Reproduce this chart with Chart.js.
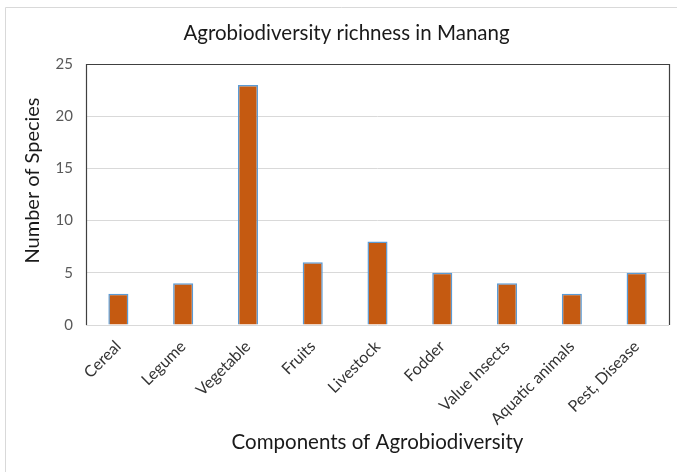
<!DOCTYPE html>
<html>
<head>
<meta charset="utf-8">
<script src="https://cdn.jsdelivr.net/npm/chart.js@4/dist/chart.umd.min.js"></script>
<style>
  html, body { margin: 0; padding: 0; background: #ffffff; }
  #wrap { width: 677px; height: 472px; position: relative; }
</style>
</head>
<body>
<div id="wrap"><canvas id="c" width="677" height="472"></canvas></div>
<script>
// Agrobiodiversity components and species counts recorded in Manang
const categories = ['Cereal', 'Legume', 'Vegetable', 'Fruits', 'Livestock', 'Fodder', 'Value Insects', 'Aquatic animals', 'Pest, Disease'];
const speciesCounts = [3, 4, 23, 6, 8, 5, 4, 3, 5];
const yTickValues = [0, 5, 10, 15, 20, 25];

const chartTitle = 'Agrobiodiversity richness in Manang';
const yAxisTitle = 'Number of Species';
const xAxisTitle = 'Components of Agrobiodiversity';

const FONT = 'Lato, "Open Sans", "Liberation Sans", sans-serif';

// Light outer frame, dark plot box, chart title and rotated y-axis title
const framePlugin = {
  id: 'frame',
  beforeDraw(chart) {
    const ctx = chart.ctx;
    ctx.save();
    ctx.strokeStyle = '#d9d9d9';
    ctx.lineWidth = 1;
    ctx.beginPath();
    ctx.moveTo(5.5, chart.height);
    ctx.lineTo(5.5, 7.5);
    ctx.lineTo(chart.width, 7.5);
    ctx.stroke();
    ctx.restore();
  },
  afterDraw(chart) {
    const { ctx, chartArea: a } = chart;
    ctx.save();
    ctx.strokeStyle = '#404040';
    ctx.lineWidth = 1.2;
    ctx.beginPath();
    ctx.moveTo(Math.round(a.left) + 0.5, Math.round(a.bottom));
    ctx.lineTo(Math.round(a.left) + 0.5, Math.round(a.top) + 0.5);
    ctx.lineTo(Math.round(a.right) + 0.5, Math.round(a.top) + 0.5);
    ctx.lineTo(Math.round(a.right) + 0.5, Math.round(a.bottom));
    ctx.stroke();

    ctx.fillStyle = '#1a1a1a';
    ctx.textAlign = 'center';
    ctx.textBaseline = 'middle';
    ctx.font = '20.5px ' + FONT;
    ctx.fillText(chartTitle, chart.width / 2 + 8, 33);

    ctx.font = '20px ' + FONT;
    ctx.translate(33, (a.top + a.bottom) / 2 - 14);
    ctx.rotate(-Math.PI / 2);
    ctx.fillText(yAxisTitle, 0, 0);
    ctx.restore();
  }
};

new Chart(document.getElementById('c'), {
  type: 'bar',
  data: {
    labels: categories,
    datasets: [{
      data: speciesCounts,
      backgroundColor: '#c55a11',
      borderColor: '#5b9bd5',
      borderWidth: 1.5,
      barPercentage: 0.31,
      categoryPercentage: 1.0
    }]
  },
  options: {
    responsive: false,
    animation: false,
    layout: { padding: { top: 64, right: 8, left: 0, bottom: 0 } },
    plugins: {
      legend: { display: false },
      title: { display: false },
      tooltip: { enabled: false }
    },
    scales: {
      x: {
        grid: { display: false, drawTicks: false },
        border: { display: false },
        ticks: {
          color: '#333333',
          font: { family: FONT, size: 16 },
          minRotation: 45,
          maxRotation: 45,
          padding: 12,
          autoSkip: false
        },
        title: {
          display: true,
          text: xAxisTitle,
          color: '#1a1a1a',
          font: { family: FONT, size: 20.5 },
          padding: { top: 0, bottom: 17 }
        },
        afterFit(scale) { scale.height = 147; }
      },
      y: {
        min: 0,
        max: 25,
        afterBuildTicks(scale) { scale.ticks = yTickValues.map(v => ({ value: v })); },
        grid: { color: '#d9d9d9', lineWidth: 1, drawTicks: false },
        border: { display: false },
        ticks: {
          color: '#595959',
          font: { family: FONT, size: 15 },
          padding: 13
        },
        afterFit(scale) { scale.width = 86; }
      }
    }
  },
  plugins: [framePlugin]
});
</script>
</body>
</html>
